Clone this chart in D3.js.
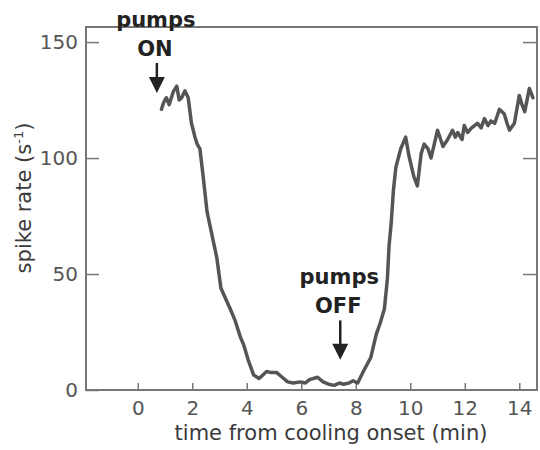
<!DOCTYPE html>
<html>
<head>
<meta charset="utf-8">
<title>spike rate vs time from cooling onset</title>
<script src="https://d3js.org/d3.v7.min.js"></script>
<style>
	body { margin:0; background:#ffffff; }
	.chart text { font-family:"DejaVu Sans", sans-serif; }
	.tick text { fill:#555555; font-size:20px; }
	.tick line { stroke:#777777; stroke-width:1.5; }
	.frame { fill:none; stroke:#777777; stroke-width:2; }
	.trace { fill:none; stroke:#555555; stroke-width:3.5; stroke-linejoin:round; stroke-linecap:round; }
	.axis-title { fill:#3a3a3a; font-size:21px; }
	.note text { fill:#222222; font-size:21px; font-weight:bold; }
	.note line { stroke:#222222; stroke-width:2.5; }
	.note path { fill:#222222; }
</style>
</head>
<body>
<div class="chart"></div>
<script>
// time from cooling onset (min)
var times = [0.87, 0.95, 1.05, 1.15, 1.3, 1.43, 1.52, 1.61, 1.73, 1.85,
	1.97, 2.1, 2.18, 2.28, 2.4, 2.54, 2.72, 2.9, 3.05, 3.2,
	3.39, 3.57, 3.76, 3.9, 4.05, 4.25, 4.45, 4.55, 4.73, 4.9,
	5.1, 5.3, 5.5, 5.7, 5.97, 6.15, 6.3, 6.6, 6.8, 7.0,
	7.2, 7.4, 7.55, 7.75, 7.9, 8.07, 8.3, 8.55, 8.75, 8.9,
	9.05, 9.16, 9.22, 9.3, 9.38, 9.47, 9.65, 9.83, 9.95, 10.13,
	10.26, 10.4, 10.51, 10.65, 10.76, 10.9, 11.0, 11.2, 11.37, 11.55,
	11.65, 11.74, 11.9, 11.98, 12.1, 12.25, 12.47, 12.6, 12.72, 12.85,
	12.96, 13.1, 13.27, 13.45, 13.55, 13.64, 13.82, 14.0, 14.1, 14.2,
	14.37, 14.5];
// spike rate (1/s)
var rates = [121, 124, 126, 123, 128.5, 131, 125, 126, 129, 126,
	115, 109, 106, 104, 92, 77, 67, 57, 44, 40,
	35, 30, 23, 19, 13, 6.5, 5, 6, 8, 7.5,
	7.5, 5.5, 3.5, 3, 3.5, 3, 4.5, 5.5, 3.5, 2.5,
	2, 3, 2.5, 3, 4, 3, 8.5, 14, 24, 29,
	35, 48, 62, 72, 86, 96, 104, 109, 101, 92,
	88, 102, 106, 104, 100, 107, 112, 105, 108, 112,
	109, 111, 108, 114, 111, 113, 115, 113, 117, 114,
	116, 115, 121, 119, 115, 112, 115, 127, 123, 120,
	130, 126];

var xTicks = [0, 2, 4, 6, 8, 10, 12, 14];
var yTicks = [0, 50, 100, 150];
var rightTicks = [50, 100, 150];

// arrows: time, rate at the tip, rate where the shaft starts
var noteLabels = [["pumps", "ON"], ["pumps", "OFF"]];
var noteTimes = [0.70, 7.43];
var noteTips = [128, 13];
var noteTops = [141, 30];

var data = times.map(function(t, i) { return {t:t, r:rates[i]}; });

var width = 540, height = 450;
var plot = {left:86, right:537, top:27, bottom:390};

var x = d3.scaleLinear().domain([-1.9, 14.65]).range([plot.left, plot.right]);
var y = d3.scaleLinear().domain([0, 156.5]).range([plot.bottom, plot.top]);

var svg = d3.select(".chart").append("svg")
	.attr("width", width)
	.attr("height", height);

// axes, ticks pointing inward
svg.append("g")
	.attr("transform", "translate(0," + plot.bottom + ")")
	.call(d3.axisBottom(x).tickValues(xTicks).tickSizeInner(-7).tickSizeOuter(0).tickPadding(11))
	.call(function(g) { g.select(".domain").remove(); });

svg.append("g")
	.attr("transform", "translate(" + plot.left + ",0)")
	.call(d3.axisLeft(y).tickValues(yTicks).tickSizeInner(-13).tickSizeOuter(0).tickPadding(8))
	.call(function(g) { g.select(".domain").remove(); });

svg.append("g")
	.attr("transform", "translate(" + plot.right + ",0)")
	.call(d3.axisRight(y).tickValues(rightTicks).tickSizeInner(-14).tickSizeOuter(0).tickFormat(""))
	.call(function(g) { g.select(".domain").remove(); });

svg.selectAll(".tick text").attr("font-family", null).attr("font-size", null);

svg.append("rect")
	.attr("class", "frame")
	.attr("x", plot.left)
	.attr("y", plot.top)
	.attr("width", plot.right - plot.left)
	.attr("height", plot.bottom - plot.top);

var line = d3.line()
	.x(function(d) { return x(d.t); })
	.y(function(d) { return y(d.r); });

svg.append("path")
	.datum(data)
	.attr("class", "trace")
	.attr("d", line);

// axis titles
svg.append("text")
	.attr("class", "axis-title")
	.attr("x", 331)
	.attr("y", 440)
	.attr("text-anchor", "middle")
	.text("time from cooling onset (min)");

var yt = svg.append("text")
	.attr("class", "axis-title")
	.attr("transform", "translate(31,198) rotate(-90)")
	.attr("text-anchor", "middle");
yt.append("tspan").text("spike rate (s");
yt.append("tspan").attr("dy", -8).attr("font-size", 13).text("-1");
yt.append("tspan").attr("dy", 8).text(")");

// pump annotations
noteLabels.forEach(function(lbl, i) {
	var g = svg.append("g").attr("class", "note");
	var ax = x(noteTimes[i]), tip = y(noteTips[i]), top = y(noteTops[i]);
	g.append("line")
		.attr("x1", ax).attr("x2", ax)
		.attr("y1", top).attr("y2", tip - 10);
	g.append("path")
		.attr("d", "M" + (ax - 8) + "," + (tip - 16) + "L" + (ax + 8) + "," + (tip - 16) + "L" + ax + "," + tip + "Z");
	g.append("text")
		.attr("x", ax - 2).attr("y", top - 7)
		.attr("text-anchor", "middle")
		.text(lbl[1]);
	g.append("text")
		.attr("x", ax - 1).attr("y", top - 36)
		.attr("text-anchor", "middle")
		.text(lbl[0]);
});
</script>
</body>
</html>
